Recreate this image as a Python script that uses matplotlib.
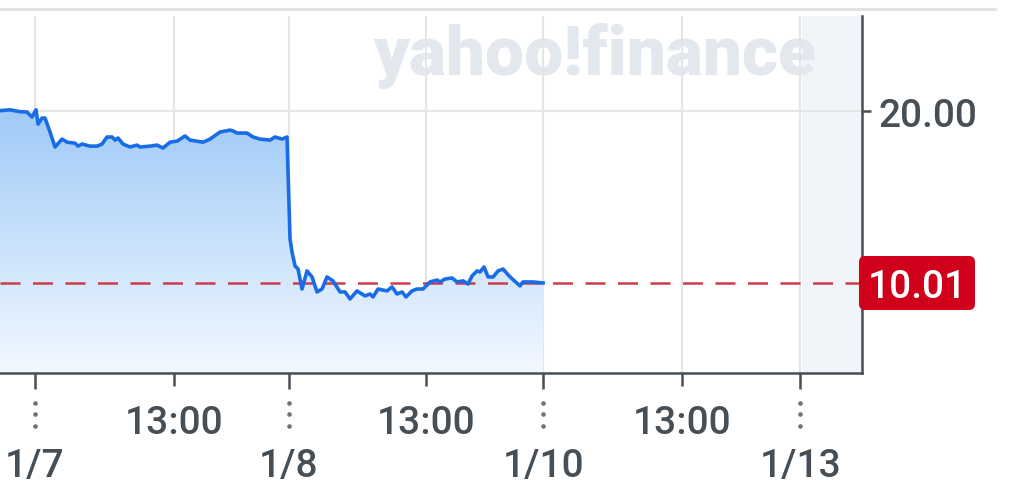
import numpy as np
import matplotlib
matplotlib.use('Agg')
import matplotlib.pyplot as plt
from matplotlib.patches import FancyBboxPatch
from matplotlib.lines import Line2D
from matplotlib.transforms import IdentityTransform
from matplotlib.colors import LinearSegmentedColormap

# ---- data (x = trading hours since 1/7 open; each session = 6.5 h) ----
hours = [-0.896, -0.640, -0.384, -0.205, -0.077, 0.026, 0.077, 0.179, 0.256, 0.384,
         0.512, 0.691, 0.819, 1.024, 1.100, 1.203, 1.407, 1.586, 1.714, 1.842,
         1.970, 2.047, 2.124, 2.252, 2.431, 2.610, 2.687, 2.943, 3.122, 3.275,
         3.454, 3.634, 3.838, 3.966, 4.299, 4.478, 4.734, 4.990, 5.067, 5.169,
         5.425, 5.578, 5.757, 6.013, 6.141, 6.320, 6.448,
         6.525, 6.576, 6.653, 6.730, 6.832, 6.960, 7.088, 7.216, 7.344, 7.472,
         7.625, 7.804, 7.932, 8.060, 8.239, 8.444, 8.572, 8.649, 8.777, 9.007,
         9.135, 9.263, 9.391, 9.493, 9.647, 9.775, 9.928, 10.107, 10.287, 10.363,
         10.491, 10.670, 10.798, 10.952, 11.080, 11.182, 11.310, 11.387, 11.489, 11.592,
         11.720, 11.848, 11.975, 12.155, 12.410, 12.487, 12.743, 13.0]
price = [20.02, 20.07, 19.96, 19.94, 19.65, 20.07, 19.24, 19.59, 19.59, 18.78,
         17.91, 18.37, 18.19, 18.13, 17.96, 18.08, 17.96, 17.96, 18.08, 18.49,
         18.49, 18.31, 18.43, 18.08, 17.91, 18.02, 17.91, 17.96, 18.02, 17.85,
         18.19, 18.25, 18.55, 18.31, 18.19, 18.37, 18.78, 18.89, 18.84, 18.72,
         18.72, 18.49, 18.37, 18.31, 18.49, 18.37, 18.49,
         12.57, 11.81, 11.00, 10.82, 9.66, 10.71, 10.36, 9.49, 9.66, 10.36,
         10.13, 9.49, 9.49, 9.08, 9.55, 9.26, 9.37, 9.20, 9.66, 9.55,
         9.78, 9.37, 9.49, 9.20, 9.55, 9.66, 9.66, 10.07, 10.18, 10.07,
         10.24, 10.30, 10.07, 10.13, 9.95, 10.42, 10.71, 10.65, 10.94, 10.36,
         10.36, 10.71, 10.82, 10.36, 9.84, 10.07, 10.07, 10.01]
day_ticks = [0, 6.5, 13, 19.58]
day_labels = ['1/7', '1/8', '1/10', '1/13']
mid_ticks = [3.55, 10.0, 16.55]
mid_labels = ['13:00', '13:00', '13:00']
y_ticks = [20.0]
y_labels = ['20.00']
last_price = 10.01
future_start = 19.62

plt.rcParams['font.family'] = ['Roboto', 'DejaVu Sans']
DARK = '#464e56'
GRID = '#e3e5e8'
FW = 'medium'
FS = 28

fig = plt.figure(figsize=(10.24, 4.85), dpi=100)
fig.patch.set_facecolor('white')
ax = fig.add_axes([0, 111 / 485, 862 / 1024, 357 / 485])
x0, x1 = -0.896, 21.16
y0, y1 = 4.78, 25.52

# future (non-trading) shading
ax.axvspan(future_start, x1, color='#f1f4f8', zorder=0, lw=0)

# watermark
ax.text(0.69, 0.838, 'yahoo!finance', transform=ax.transAxes, ha='center', va='baseline',
        fontsize=50, fontweight='heavy', color='#e3e7ee', zorder=0.3)

# grid lines
for xv in day_ticks + mid_ticks:
    ax.axvline(xv, color=GRID, lw=1.5, zorder=0.8)
for yv in y_ticks:
    ax.axhline(yv, color=GRID, lw=1.5, zorder=0.8)

# gradient area fill
poly = ax.fill_between(hours, price, y0, facecolor='none', edgecolor='none')
path = poly.get_paths()[0]
cmap = LinearSegmentedColormap.from_list('g', [(0.95, 0.975, 1.0), (0.62, 0.79, 0.97)])
grad = np.linspace(0, 1, 256).reshape(-1, 1)
im = ax.imshow(grad, extent=[x0, x1, y0, 20.3], origin='lower', cmap=cmap,
               aspect='auto', zorder=1, interpolation='bilinear')
im.set_clip_path(path, ax.transData)

# price line
ax.plot(hours, price, color='#1a6ce6', lw=2.6, zorder=3, solid_joinstyle='round')

# last price dashed line
ax.axhline(last_price, color='#cf3a4c', lw=1.8, dashes=(8, 5), zorder=2.5)

ax.set_xlim(x0, x1)
ax.set_ylim(y0, y1)

# spines
for s in ['top', 'left']:
    ax.spines[s].set_visible(False)
for s in ['right', 'bottom']:
    ax.spines[s].set_color(DARK)
    ax.spines[s].set_linewidth(1.8)
    ax.spines[s].set_zorder(4)

# ticks
ax.yaxis.tick_right()
ax.set_yticks(y_ticks, labels=y_labels, fontweight=FW)
ax.tick_params(axis='y', length=6.5, width=1.8, color=DARK, pad=5.5,
               labelsize=FS, labelcolor=DARK)
ax.set_xticks(day_ticks, labels=day_labels, fontweight=FW)
ax.set_xticks(mid_ticks, labels=mid_labels, minor=True, fontweight=FW)
ax.tick_params(axis='x', which='major', length=11.5, width=1.8, color=DARK, pad=42,
               labelsize=FS, labelcolor=DARK)
ax.tick_params(axis='x', which='minor', length=9.4, width=1.8, color=DARK, pad=13,
               labelsize=FS, labelcolor=DARK)

# dotted marks under day ticks
for xv in day_ticks:
    ax.plot([xv] * 3, [-0.084, -0.115, -0.148], ls='none', marker='o', ms=2.3,
            color='#6b737b', transform=ax.get_xaxis_transform(), clip_on=False)

# top divider line
fig.add_artist(Line2D([0, 995 / 1024], [1 - 9.5 / 485] * 2, color='#e1e2e6', lw=2.2))

# last price badge
badge = FancyBboxPatch((859, 485 - 311), 116, 54, boxstyle='round,pad=0,rounding_size=6',
                       transform=IdentityTransform(), fc='#d0021b', ec='none', zorder=10)
fig.add_artist(badge)
fig.text(917 / 1024, 1 - 284 / 485, f'{last_price:.2f}', ha='center', va='center_baseline',
         fontsize=FS, fontweight=FW, color='white', zorder=11)

fig.savefig('out.png', dpi=100)
